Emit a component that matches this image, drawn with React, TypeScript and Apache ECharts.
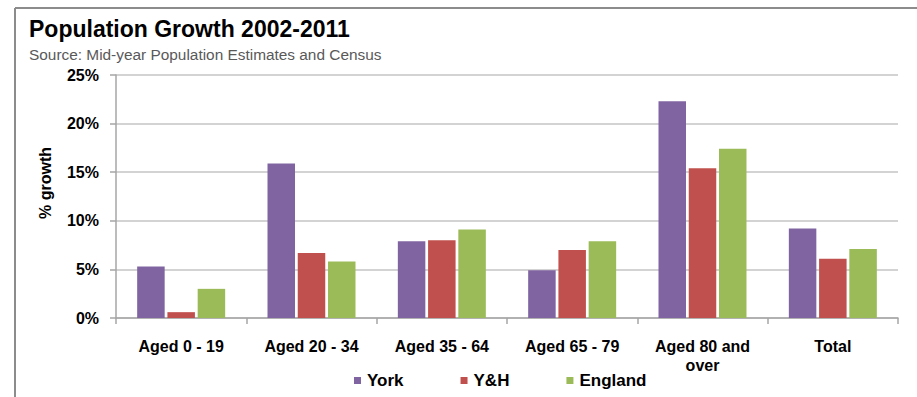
import React, { useEffect, useRef } from "react";
import * as echarts from "echarts";

const categories = [
  "Aged 0 - 19",
  "Aged 20 - 34",
  "Aged 35 - 64",
  "Aged 65 - 79",
  "Aged 80 and\nover",
  "Total",
];
const yorkValues = [5.3, 15.9, 7.9, 4.9, 22.3, 9.2];
const yhValues = [0.6, 6.7, 8.0, 7.0, 15.4, 6.1];
const englandValues = [3.0, 5.8, 9.1, 7.9, 17.4, 7.1];
const seriesNames = ["York", "Y&H", "England"];

const FONT = "'Liberation Sans', Arial, sans-serif";
const AXIS_GREY = "#a6a6a6";
const GRID_GREY = "#c4c4c4";

export default function App() {
  const ref = useRef<HTMLDivElement>(null);

  useEffect(() => {
    if (!ref.current) return;
    const chart = echarts.init(ref.current, undefined, { renderer: "svg" });
    const colors = ["#8064A2", "#C0504D", "#9BBB59"];
    const values = [yorkValues, yhValues, englandValues];

    chart.setOption({
      animation: false,
      backgroundColor: "#ffffff",
      textStyle: { fontFamily: FONT },
      graphic: [
        // frame edges
        {
          type: "line",
          shape: { x1: 15, y1: 8, x2: 917, y2: 8 },
          style: { stroke: "#8c8c8c", lineWidth: 2 },
        },
        {
          type: "line",
          shape: { x1: 15, y1: 8, x2: 15, y2: 397 },
          style: { stroke: "#8c8c8c", lineWidth: 2 },
        },
        {
          type: "text",
          x: 29,
          y: 28.5,
          style: {
            text: "Population Growth 2002-2011",
            font: `bold 23px ${FONT}`,
            fill: "#000000",
            align: "left",
            verticalAlign: "middle",
          },
        },
        {
          type: "text",
          x: 29,
          y: 54,
          style: {
            text: "Source: Mid-year Population Estimates and Census",
            font: `15.4px ${FONT}`,
            fill: "#595959",
            align: "left",
            verticalAlign: "middle",
          },
        },
        {
          type: "text",
          x: 45,
          y: 183,
          rotation: Math.PI / 2,
          style: {
            text: "% growth",
            font: `bold 16px ${FONT}`,
            fill: "#000000",
            align: "center",
            verticalAlign: "middle",
          },
        },
      ],
      legend: {
        data: seriesNames,
        left: 349,
        top: 367,
        icon: "rect",
        itemWidth: 7,
        itemHeight: 7,
        itemGap: 57,
        textStyle: {
          fontFamily: FONT,
          fontWeight: "bold",
          fontSize: 17,
          color: "#000000",
          padding: [0, 0, 0, 1],
        },
      },
      grid: { left: 116, right: 19, top: 75, bottom: 79 },
      xAxis: {
        type: "category",
        data: categories,
        axisLine: { show: true, lineStyle: { color: AXIS_GREY, width: 1.5 } },
        axisTick: {
          show: true,
          interval: 0,
          length: 6,
          lineStyle: { color: AXIS_GREY, width: 1.5 },
        },
        axisLabel: {
          interval: 0,
          margin: 19,
          fontFamily: FONT,
          fontWeight: "bold",
          fontSize: 16,
          lineHeight: 19,
          color: "#000000",
        },
      },
      yAxis: {
        type: "value",
        min: 0,
        max: 25,
        interval: 5,
        axisLine: { show: true, lineStyle: { color: AXIS_GREY, width: 1.5 } },
        axisTick: {
          show: true,
          length: 6,
          lineStyle: { color: AXIS_GREY, width: 1.5 },
        },
        splitLine: { lineStyle: { color: GRID_GREY, width: 1.5 } },
        axisLabel: {
          margin: 17,
          formatter: "{value}%",
          fontFamily: FONT,
          fontWeight: "bold",
          fontSize: 16,
          color: "#000000",
        },
      },
      series: seriesNames.map((name, i) => ({
        name,
        type: "bar",
        data: values[i],
        barWidth: 27.5,
        barGap: "10%",
        itemStyle: { color: colors[i] },
      })),
    });

    return () => chart.dispose();
  }, []);

  return (
    <div
      ref={ref}
      style={{ position: "fixed", left: 0, top: 0, width: 917, height: 397 }}
    />
  );
}
